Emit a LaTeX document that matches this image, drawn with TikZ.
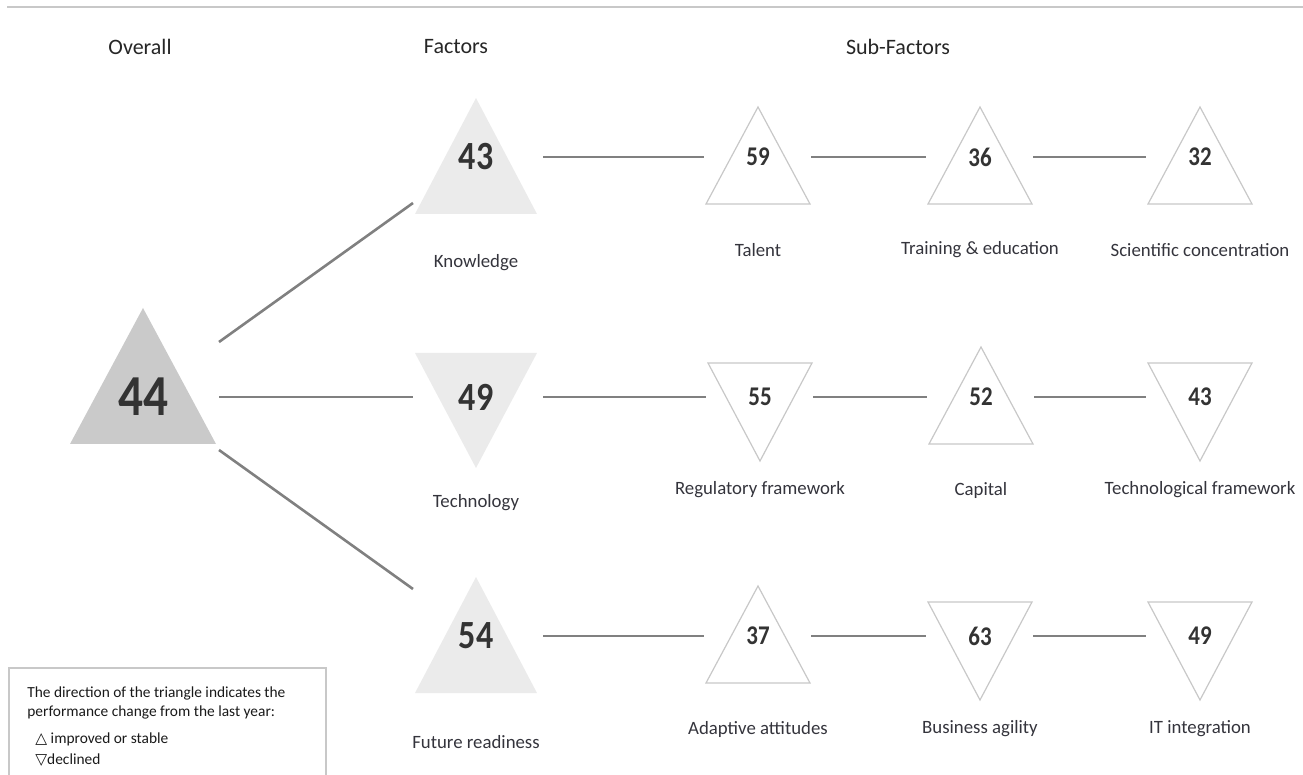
\documentclass[tikz,border=0pt]{standalone}
\usepackage{fontspec}
\usepackage{tikz}
\usepackage{xcolor}
\setmainfont{Carlito}
\newfontfamily\numfont[FakeStretch=0.85]{Carlito}
\newfontfamily\symfont{DejaVu Sans}
\usetikzlibrary{positioning}

\definecolor{ovfill}{HTML}{CACACA}
\definecolor{facfill}{HTML}{EBEBEB}
\definecolor{subline}{HTML}{C8C8C8}
\definecolor{linkgray}{HTML}{808080}
\definecolor{txtgray}{HTML}{34343C}

\begin{document}
\begin{tikzpicture}[x=0.5pt,y=-0.5pt,
		heading/.style={font=\fontsize{11}{13}\selectfont,text=black!85,inner sep=0pt},
		bignum/.style={font=\numfont\bfseries\fontsize{29}{32}\selectfont,text=black!80,inner sep=0pt},
		facnum/.style={font=\numfont\bfseries\fontsize{20}{22}\selectfont,text=black!80,inner sep=0pt},
		subnum/.style={font=\numfont\bfseries\fontsize{13.5}{15}\selectfont,text=black!80,inner sep=0pt},
		sublabel/.style={font=\fontsize{9.4}{11}\selectfont,text=txtgray,inner sep=0pt},
		subtri/.style={draw=subline,line width=0.6pt,fill=white},
		link/.style={draw=linkgray,line width=1.3pt}]
		\useasboundingbox (0,0) rectangle (1303,775);
		\draw[subline,line width=1pt] (7,7) -- (1303,7);
		\node[heading] (h-overall) at (140,47) {Overall};
		\node[heading] (h-factors) at (456,47) {Factors};
		\node[heading] (h-sub) at (898,47) {Sub-Factors};
		\fill[ovfill] (70,444) -- (216,444) -- (143,308) -- cycle;
		\node[bignum] (n-overall) at (143,397) {44};
		\coordinate (ov-n) at (219,342);
		\coordinate (ov-e) at (219,397);
		\coordinate (ov-s) at (219,450);
		\foreach \nm/\r/\a/\b/\num/\lab in {
			know/157/-59/57/43/Knowledge,
			tech/397/71/-44/49/Technology,
			fut/636/-59/57/54/Future readiness}
		{
			\fill[facfill] (415,\r+\b) -- (537,\r+\b) -- (476,\r+\a) -- cycle;
			\node[facnum] (n-\nm) at (476,\r) {\num};
			\node[sublabel] (l-\nm) at (476,\r+106) {\lab};
			\coordinate (\nm-e) at (543,\r);
		}
		\coordinate (know-w) at (413,203);
		\coordinate (tech-w) at (413,397);
		\coordinate (fut-w) at (413,589);
		\foreach \nm/\x/\r/\a/\b/\num/\lab in {
			tal/758/157/-50/47/59/Talent,
			tra/980/157/-50/47/36/Training \& education,
			sci/1200/157/-50/47/32/Scientific concentration,
			reg/760/397/64/-34/55/Regulatory framework,
			cap/981/397/-50/47/52/Capital,
			tec/1200/397/64/-34/43/Technological framework,
			ada/758/636/-50/47/37/Adaptive attitudes,
			bus/980/636/64/-34/63/Business agility,
			itg/1200/636/64/-34/49/IT integration}
		{
			\draw[subtri] (\x-52,\r+\b) -- (\x+52,\r+\b) -- (\x,\r+\a) -- cycle;
			\node[subnum] (n-\nm) at (\x,\r) {\num};
			\node[sublabel] (l-\nm) at (\x,\r+93) {\lab};
			\coordinate (\nm-w) at (\x-54,\r);
			\coordinate (\nm-e) at (\x+53,\r);
		}
		\draw[link] (ov-n) -- (know-w);
		\draw[link,line width=1pt] (ov-e) -- (tech-w);
		\draw[link] (ov-s) -- (fut-w);
		\foreach \p/\q in {know/tal,tal/tra,tra/sci,tech/reg,reg/cap,cap/tec,fut/ada,ada/bus,bus/itg}
		{
			\draw[link] (\p-e) -- (\q-w);
		}
		\draw[subline,line width=0.8pt] (9,780) -- (9,668) -- (326,668) -- (326,780);
		\node[anchor=north west,align=left,inner sep=0pt,text=black!90,
			font=\fontsize{7.7}{9.5}\selectfont] (legend) at (27,686)
			{The direction of the triangle indicates the\\
			performance change from the last year:\\[4pt]
			\hspace{4pt}{\symfont △} improved or stable\\[1pt]
			\hspace{4pt}{\symfont ▽}declined};
	\end{tikzpicture}
\end{document}
